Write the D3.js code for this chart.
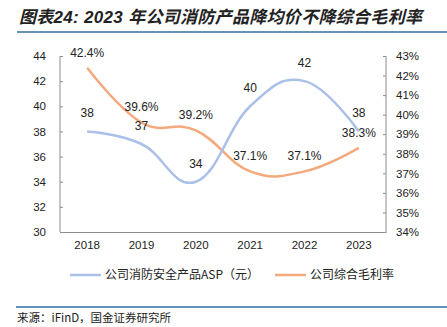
<!DOCTYPE html>
<html>
<head>
<meta charset="utf-8">
<script src="https://cdn.jsdelivr.net/npm/d3@7"></script>
<style>
  body { margin: 0; background: #fff; }
  text { font-family: "Liberation Sans", Arial, "Noto Sans CJK SC", sans-serif; fill: #222; }
</style>
</head>
<body>
<script>
// chart data
var years = ["2018", "2019", "2020", "2021", "2022", "2023"];
var asp = [38, 37, 34, 40, 42, 38];              // 公司消防安全产品ASP（元）
var margin = [42.4, 39.6, 39.2, 37.1, 37.1, 38.3]; // 公司综合毛利率 (%)
var leftTicks = [30, 32, 34, 36, 38, 40, 42, 44];
var rightTicks = [34, 35, 36, 37, 38, 39, 40, 41, 42, 43];

var W = 447, H = 327;
var plot = {left: 60, right: 386, top: 56, bottom: 232};
var blue = "#aac0e9", orange = "#f4a97c", rule = "#2f6f9f", axisColor = "#8c8c8c";

var svg = d3.select("body").append("svg")
    .attr("width", W)
    .attr("height", H);

// title + rule under it
svg.append("text")
    .attr("x", 19)
    .attr("y", 23)
    .attr("font-size", 17)
    .attr("font-weight", "bold")
    .attr("font-style", "italic")
    .attr("letter-spacing", 0.3)
    .style("font-family", "'Liberation Sans', 'Noto Sans CJK SC', sans-serif")
    .text("图表24:  2023 年公司消防产品降均价不降综合毛利率");

svg.append("line")
    .attr("x1", 17).attr("x2", W)
    .attr("y1", 32).attr("y2", 32)
    .attr("stroke", rule)
    .attr("stroke-width", 1.5);

// scales
var x = d3.scaleBand().domain(years).range([plot.left, plot.right]);
var yL = d3.scaleLinear().domain([30, 44]).range([plot.bottom, plot.top]);
var yR = d3.scaleLinear().domain([34, 43]).range([plot.bottom, plot.top]);
var cx = function(d, i) { return x(years[i]) + x.bandwidth() / 2; };

// left axis, ticks inward
var gL = svg.append("g")
    .attr("transform", "translate(" + plot.left + ",0)")
    .call(d3.axisRight(yL).tickValues(leftTicks).tickSize(3).tickFormat(d3.format("d")));
gL.selectAll("text").attr("x", -14).attr("text-anchor", "end").attr("font-size", 11.5);

// right axis, ticks inward
var gR = svg.append("g")
    .attr("transform", "translate(" + plot.right + ",0)")
    .call(d3.axisLeft(yR).tickValues(rightTicks).tickSize(3).tickFormat(function(d) { return d + "%"; }));
gR.selectAll("text").attr("x", 10).attr("text-anchor", "start").attr("font-size", 11.5);

// bottom axis
var gB = svg.append("g")
    .attr("transform", "translate(0," + plot.bottom + ")")
    .call(d3.axisBottom(x).tickSize(0).tickPadding(8));
gB.selectAll("text").attr("font-size", 11.5).attr("dy", "0.75em");

[gL, gR, gB].forEach(function(g) {
  g.selectAll(".domain").attr("stroke", axisColor);
  g.selectAll(".tick line").attr("stroke", axisColor);
  g.selectAll("text").style("font-family", "'Liberation Sans', Arial, sans-serif").attr("fill", "#222");
});
gL.select(".domain").attr("d", "M0," + plot.top + "V" + plot.bottom);
gR.select(".domain").attr("d", "M0," + plot.top + "V" + plot.bottom);

// smooth lines (slightly loose cardinal so peaks overshoot a little)
var curve = d3.curveCardinal.tension(-0.25);

var aspLine = d3.line()
    .x(cx)
    .y(function(d) { return yL(d); })
    .curve(curve);

var marginLine = d3.line()
    .x(cx)
    .y(function(d) { return yR(d); })
    .curve(curve);

svg.append("path")
    .datum(margin)
    .attr("fill", "none")
    .attr("stroke", orange)
    .attr("stroke-width", 2.5)
    .attr("d", marginLine);

svg.append("path")
    .datum(asp)
    .attr("fill", "none")
    .attr("stroke", blue)
    .attr("stroke-width", 2.5)
    .attr("d", aspLine);

// value labels
svg.selectAll(".asp-label")
    .data(asp)
    .enter().append("text")
    .attr("class", "asp-label")
    .attr("x", cx)
    .attr("y", function(d) { return yL(d) - 14; })
    .attr("text-anchor", "middle")
    .attr("font-size", 12)
    .text(function(d) { return d; });

svg.selectAll(".margin-label")
    .data(margin)
    .enter().append("text")
    .attr("class", "margin-label")
    .attr("x", cx)
    .attr("y", function(d) { return yR(d) - 11; })
    .attr("text-anchor", "middle")
    .attr("font-size", 12)
    .text(function(d) { return d.toFixed(1) + "%"; });

// legend
var legend = [
  {name: "公司消防安全产品ASP（元）", color: blue, x: 70},
  {name: "公司综合毛利率", color: orange, x: 275}
];
var lg = svg.selectAll(".legend")
    .data(legend)
    .enter().append("g")
    .attr("class", "legend")
    .attr("transform", function(d) { return "translate(" + d.x + ",275)"; });
lg.append("line")
    .attr("x1", 0).attr("x2", 31)
    .attr("stroke", function(d) { return d.color; })
    .attr("stroke-width", 2.5);
lg.append("text")
    .attr("x", 35)
    .attr("dy", "0.35em")
    .attr("font-size", 12)
    .style("font-family", "'Noto Sans CJK SC', sans-serif")
    .text(function(d) { return d.name; });

// footer
svg.append("line")
    .attr("x1", 16).attr("x2", W)
    .attr("y1", 307).attr("y2", 307)
    .attr("stroke", rule)
    .attr("stroke-width", 1.5);

svg.append("text")
    .attr("x", 17)
    .attr("y", 322)
    .attr("font-size", 11.5)
    .style("font-family", "'Noto Sans CJK SC', sans-serif")
    .text("来源：iFinD，国金证券研究所");
</script>
</body>
</html>
